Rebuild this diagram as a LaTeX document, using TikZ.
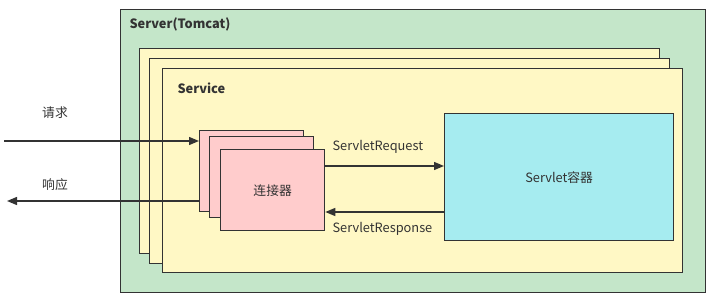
\documentclass[tikz,border=0pt]{standalone}
\usepackage{fontspec}
\setmainfont{Noto Sans CJK SC}
\usetikzlibrary{arrows.meta,calc}

\definecolor{srvgreen}{HTML}{C4E6C9}
\definecolor{svcyellow}{HTML}{FFF8C5}
\definecolor{conpink}{HTML}{FFCCCC}
\definecolor{ctncyan}{HTML}{A6ECF0}
\definecolor{edge}{HTML}{333333}

\tikzset{
    box/.style={draw=edge, line width=1.3pt, anchor=north west, inner sep=0pt},
    arr/.style={draw=edge, line width=1.3pt, -{Triangle[length=10pt,width=8pt]}},
    lbl/.style={text=edge, font=\fontsize{12.8}{15}\selectfont},
    title/.style={text=edge, anchor=west, font=\fontsize{12.8}{15}\selectfont\bfseries},
}

\begin{document}
\begin{tikzpicture}[x=1pt,y=-1pt]
    \useasboundingbox (0,0) rectangle (717,299);

    %outer server box
        \node[box, fill=srvgreen, minimum width=585, minimum height=283] (srv) at (120,9) {};
        \node[title] (srvname) at (126,24) {Server(Tomcat)};

    %stacked service boxes
        \node[box, fill=svcyellow, minimum width=520, minimum height=205] (svc1) at (139,48) {};
        \node[box, fill=svcyellow, minimum width=520, minimum height=205] (svc2) at (149,58) {};
        \node[box, fill=svcyellow, minimum width=520, minimum height=204] (svc3) at (162,68) {};
        \node[title] (svcname) at (174,88) {Service};

    %stacked connectors
        \node[box, fill=conpink, minimum width=104, minimum height=81] (con1) at (199,130) {};
        \node[box, fill=conpink, minimum width=104, minimum height=81] (con2) at (209,136) {};
        \node[box, fill=conpink, minimum width=104, minimum height=81] (con3) at (220,149) {};
        \node[lbl] (conname) at (con3.center) {连接器};

    %servlet container
        \node[box, fill=ctncyan, minimum width=229, minimum height=127] (ctn) at (444,113) {};
        \node[lbl] (ctnname) at (ctn.center) {Servlet容器};

    %request and response from outside
        \coordinate (reqin) at (4,141);
        \coordinate (resout) at (7,201);
        \draw[arr] (reqin) -- (reqin -| con1.west);
        \draw[arr] (resout -| con1.west) -- (resout);
        \node[lbl] (req) at (55,113) {请求};
        \node[lbl] (res) at (55,185) {响应};

    %connector to container and back
        \coordinate (sreq) at (0,166);
        \coordinate (sres) at (0,212);
        \draw[arr] (sreq -| con3.east) -- (sreq -| ctn.west);
        \draw[arr] (sres -| ctn.west) -- (sres -| con3.east);
        \node[lbl, anchor=west] (sreqname) at (329,147) {ServletRequest};
        \node[lbl, anchor=west] (sresname) at (329,229) {ServletResponse};
\end{tikzpicture}
\end{document}
